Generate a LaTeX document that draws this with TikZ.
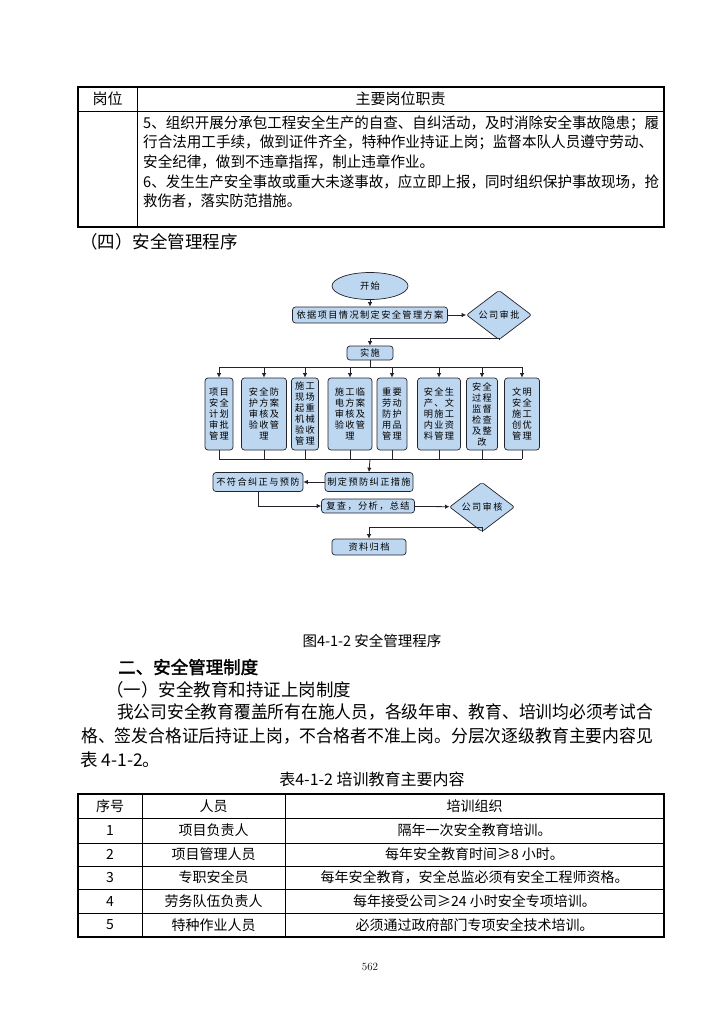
\documentclass[tikz,border=0pt]{standalone}
\usepackage{fontspec}
\usepackage{graphicx}
\newfontfamily\cjk{Noto Sans CJK SC}
\newfontfamily\flowfont[LetterSpace=15]{Noto Sans CJK SC}
\newfontfamily\cjkbold[FakeBold=2]{Noto Sans CJK SC}
\usetikzlibrary{shapes.geometric,arrows.meta,positioning}
\definecolor{flowblue}{RGB}{190,215,240}
\definecolor{flowline}{RGB}{35,35,45}
\newcommand\fullline[2]{\resizebox{#1}{\height}{#2}}
\begin{document}
\begin{tikzpicture}[x=1pt,y=-1pt,
    flowbox/.style={draw=flowline, fill=flowblue, rounded corners=3pt, line width=0.7pt,
      inner sep=0pt, align=center, font=\flowfont\fontsize{9.2}{11}\selectfont},
    startnode/.style={flowbox, ellipse},
    decision/.style={flowbox, diamond, rounded corners=2pt},
    flowarrow/.style={-{Latex[length=4.5pt,width=4.5pt]}, line width=0.8pt, draw=flowline},
    flowline/.style={line width=0.8pt, draw=flowline},
    tableouter/.style={line width=1.6pt},
    tablerule/.style={line width=0.7pt},
    cell/.style={inner sep=0pt, font=\cjk\fontsize{14}{16}\selectfont},
    bodyline/.style={inner sep=0pt, anchor=west, font=\cjk\fontsize{15}{19}\selectfont},
    textline/.style={inner sep=0pt, anchor=west, font=\cjk\fontsize{17.5}{24}\selectfont}]
\useasboundingbox (0,0) rectangle (724,1024);

% duties table
\draw[tablerule] (78,111) -- (664,111);
\draw[tablerule] (137,87) -- (137,227);
\draw[tableouter] (78,87) rectangle (664,227);
\node[cell, font=\cjk\fontsize{15}{17}\selectfont] (posthead) at (107.5,99) {岗位};
\node[cell, font=\cjk\fontsize{15}{17}\selectfont] (dutyhead) at (400.5,99) {主要岗位职责};
\node[bodyline] (duty1) at (143,123) {\fullline{516pt}{5、组织开展分承包工程安全生产的自查、自纠活动，及时消除安全事故隐患；履}};
\node[bodyline] (duty2) at (143,142.5) {\fullline{510pt}{行合法用工手续，做到证件齐全，特种作业持证上岗；监督本队人员遵守劳动、}};
\node[bodyline] (duty3) at (143,162) {\fullline{291pt}{安全纪律，做到不违章指挥，制止违章作业。}};
\node[bodyline] (duty4) at (143,181.5) {\fullline{516pt}{6、发生生产安全事故或重大未遂事故，应立即上报，同时组织保护事故现场，抢}};
\node[bodyline] (duty5) at (143,201) {\fullline{158pt}{救伤者，落实防范措施。}};

\node[textline] (proctitle) at (80,242) {（四）安全管理程序};

% flow chart
\node[startnode, minimum width=76, minimum height=27] (start) at (370,286) {开始};
\node[flowbox, minimum width=155, minimum height=16] (plan) at (370,315) {依据项目情况制定安全管理方案};
\node[decision, minimum width=65, minimum height=34] (approve) at (499,315) {公司审批};
\node[flowbox, minimum width=46, minimum height=14] (impl) at (370,353) {实施};
\coordinate (approveturn) at (499,338);
\coordinate (topbus) at (370,367);
\coordinate (lowbus) at (370,459);

\node[flowbox, minimum width=28, minimum height=72] (b1) at (219,414) {项目\\安全\\计划\\审批\\管理};
\node[flowbox, minimum width=45, minimum height=72] (b2) at (264,414) {安全防\\护方案\\审核及\\验收管\\理};
\node[flowbox, minimum width=27, minimum height=72] (b3) at (305,414) {施工\\现场\\起重\\机械\\验收\\管理};
\node[flowbox, minimum width=44, minimum height=72] (b4) at (350,414) {施工临\\电方案\\审核及\\验收管\\理};
\node[flowbox, minimum width=30, minimum height=72] (b5) at (392,414) {重要\\劳动\\防护\\用品\\管理};
\node[flowbox, minimum width=43, minimum height=72] (b6) at (439,414) {安全生\\产、文\\明施工\\内业资\\料管理};
\node[flowbox, minimum width=31, minimum height=72] (b7) at (482,414) {安全\\过程\\监督\\检查\\及整\\改};
\node[flowbox, minimum width=35, minimum height=72] (b8) at (522,414) {文明\\安全\\施工\\创优\\管理};

\node[flowbox, minimum width=88, minimum height=19] (prevent) at (369,482) {制定预防纠正措施};
\node[flowbox, minimum width=90, minimum height=19] (nonconf) at (258,482) {不符合纠正与预防};
\node[flowbox, minimum width=93, minimum height=14] (review) at (368,506) {复查，分析，总结};
\node[decision, minimum width=65, minimum height=31] (verify) at (482,507) {公司审核};
\node[flowbox, minimum width=74, minimum height=16] (archive) at (369,547) {资料归档};
\coordinate (verifyturn) at (482,527);

\draw[flowarrow] (start) -- (plan);
\draw[flowarrow] (plan) -- (approve);
\draw[flowline] (approve.south) -- (approveturn);
\draw[flowarrow] (approveturn) -| (impl.north);
\draw[flowline] (impl.south) -- (topbus);
\draw[flowline] (topbus -| b1.north) -- (topbus -| b8.north);
\foreach \b in {b1,b2,b3,b4,b5,b6,b7,b8}{
  \draw[flowarrow] (topbus -| \b.north) -- (\b.north);
  \draw[flowline] (\b.south) -- (lowbus -| \b.south);
}
\draw[flowline] (lowbus -| b1.south) -- (lowbus -| b8.south);
\draw[flowarrow] (lowbus) -- (prevent.north);
\draw[flowarrow] (prevent) -- (nonconf);
\draw[flowarrow] (nonconf.south) |- (review.west);
\draw[flowarrow] (review) -- (verify);
\draw[flowline] (verify.south) -- (verifyturn);
\draw[flowarrow] (verifyturn) -| (archive.north);

\node[cell, font=\cjk\fontsize{14.5}{16}\selectfont] (figcap) at (372,641) {图4-1-2 安全管理程序};

% text
\node[textline, font=\cjkbold\fontsize{17.5}{24}\selectfont] (section) at (118,667) {二、安全管理制度};
\node[textline] (subsection) at (106,690) {（一）安全教育和持证上岗制度};
\node[textline] (para1) at (117,712) {\fullline{536pt}{我公司安全教育覆盖所有在施人员，各级年审、教育、培训均必须考试合}};
\node[textline] (para2) at (81,736.5) {\fullline{572pt}{格、签发合格证后持证上岗，不合格者不准上岗。分层次逐级教育主要内容见}};
\node[textline] (para3) at (80,760) {表 4-1-2。};

% training table
\node[cell, font=\cjk\fontsize{16}{18}\selectfont] (tabcap) at (372,779) {表4-1-2 培训教育主要内容};
\foreach \y in {818,843,866,889,913}
  \draw[tablerule] (78,\y) -- (664,\y);
\draw[tablerule] (142,794) -- (142,937);
\draw[tablerule] (285,794) -- (285,937);
\draw[tableouter] (78,794) rectangle (664,937);
\node[cell] (nohead) at (110,806) {序号};
\node[cell] (stafhead) at (213.5,806) {人员};
\node[cell] (trainhead) at (474.5,806) {培训组织};
\node[cell] (no1) at (110,830.5) {1};
\node[cell] (staf1) at (213.5,830.5) {项目负责人};
\node[cell] (train1) at (474.5,830.5) {隔年一次安全教育培训。};
\node[cell] (no2) at (110,854.5) {2};
\node[cell] (staf2) at (213.5,854.5) {项目管理人员};
\node[cell] (train2) at (474.5,854.5) {每年安全教育时间≥8 小时。};
\node[cell] (no3) at (110,877.5) {3};
\node[cell] (staf3) at (213.5,877.5) {专职安全员};
\node[cell] (train3) at (474.5,877.5) {每年安全教育，安全总监必须有安全工程师资格。};
\node[cell] (no4) at (110,901) {4};
\node[cell] (staf4) at (213.5,901) {劳务队伍负责人};
\node[cell] (train4) at (474.5,901) {每年接受公司≥24 小时安全专项培训。};
\node[cell] (no5) at (110,925) {5};
\node[cell] (staf5) at (213.5,925) {特种作业人员};
\node[cell] (train5) at (474.5,925) {必须通过政府部门专项安全技术培训。};

\node[inner sep=0pt, font=\fontsize{11}{13}\selectfont] (pageno) at (370,967) {562};
\end{tikzpicture}
\end{document}
